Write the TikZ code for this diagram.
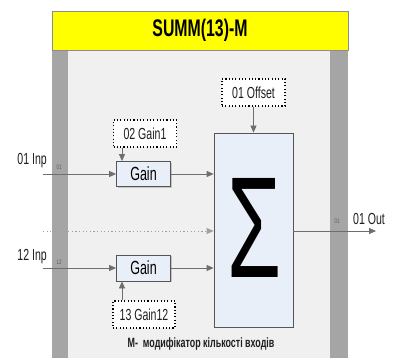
\documentclass[tikz,border=0pt]{standalone}
\usepackage{fontspec}
\setmainfont{Liberation Sans}[FakeStretch=0.66]
\usetikzlibrary{arrows.meta,shadows}
\definecolor{hdr}{HTML}{FFFF00}
\definecolor{hdredge}{HTML}{8C8C8C}
\definecolor{bar}{HTML}{A5A5A5}
\definecolor{panel}{HTML}{F0F0F0}
\definecolor{blk}{HTML}{E9EFF8}
\definecolor{edge}{HTML}{555555}
\definecolor{wire}{HTML}{6E6E6E}
\definecolor{dotwire}{HTML}{A0A0A0}
\definecolor{ink}{HTML}{1E1E1E}
\tikzset{
  fnbox/.style={draw=edge, fill=blk, line width=0.8pt, inner sep=0pt,
    drop shadow={shadow xshift=1.2pt, shadow yshift=-1.2pt, fill=black!40, opacity=0.5}},
  parbox/.style={draw=black, line width=1.1pt, dash pattern=on 1.1pt off 2.2pt,
    fill=white, inner sep=0pt, text=ink, font=\fontsize{16}{16}\selectfont},
  sig/.style={draw=wire, line width=0.8pt, -{Triangle[length=7pt,width=6pt]}},
  lbl/.style={inner sep=0pt, text=ink, font=\fontsize{16}{16}\selectfont},
  port/.style={inner sep=0pt, text=black!65, font=\fontsize{6.5}{6.5}\selectfont},
}
\begin{document}
\begin{tikzpicture}[x=1pt,y=-1pt]
  \useasboundingbox[fill=white] (0,0) rectangle (395,358);

  % block frame: grey side bars, light panel, yellow title bar
  \fill[bar] (52,50) rectangle (348,358);
  \fill[panel] (68,50) rectangle (330,358);
  \draw[fill=hdr, draw=hdredge, line width=0.8pt] (52,11) rectangle (348,50);
  \node[inner sep=0pt, text=black, font=\bfseries\fontsize{24}{24}\selectfont] (title) at (200,30.5) {SUMM(13)-M};

  % function blocks
  \node[fnbox, minimum width=54pt, minimum height=25pt, font=\fontsize{19}{19}\selectfont] (g1) at (143.5,174) {Gain};
  \node[fnbox, minimum width=54pt, minimum height=26pt, font=\fontsize{19}{19}\selectfont] (g12) at (143.5,268) {Gain};
  \node[fnbox, minimum width=79pt, minimum height=194pt] (sum) at (253.5,230) {};
  \node[inner sep=0pt, text=black, font=\fontsize{144}{144}\selectfont] (sigma) at (255,227.5) {\scalebox{0.92}[1]{Σ}};

  % parameter inputs
  \node[parbox, minimum width=63pt, minimum height=27pt] (off) at (253.5,92.5) {01 Offset};
  \node[parbox, minimum width=63pt, minimum height=27pt] (p1) at (145,133.5) {02 Gain1};
  \node[parbox, minimum width=62pt, minimum height=27pt] (p12) at (144,314.5) {13 Gain12};

  % signal end points
  \coordinate (i1) at (43,174);
  \coordinate (i0) at (43,231);
  \coordinate (i12) at (43,268);
  \coordinate (o1) at (376,231);
  \coordinate (k) at (122,0);

  % wiring
  \draw[sig] (i1) -- (g1.west);
  \draw[sig] (i12) -- (g12.west);
  \draw[sig] (g1.east) -- (g1.east -| sum.west);
  \draw[sig] (g12.east) -- (g12.east -| sum.west);
  \draw[sig, draw=dotwire, dash pattern=on 1.2pt off 2.4pt] (i0) -- (i0 -| sum.west);
  \draw[sig] (sum.east |- o1) -- (o1);
  \draw[sig] (off.south) -- (sum.north);
  \draw[sig] (p1.south -| k) -- (g1.north -| k);
  \draw[sig] (p12.north -| k) -- (g12.south -| k);

  % port labels
  \node[lbl, anchor=base east] (t1) at (47,164) {01 Inp};
  \node[lbl, anchor=base east] (t12) at (47,260) {12 Inp};
  \node[lbl, anchor=base west] (to) at (353,224) {01 Out};
  \node[port] (n1) at (59,167) {01};
  \node[port] (n12) at (59,262) {12};
  \node[port] (no) at (337,221) {01};

  % footnote
  \node[inner sep=0pt, text=ink, font=\bfseries\fontsize{13.5}{13.5}\selectfont] (note) at (201,344) {M-\ \ модифікатор кількості входів};
\end{tikzpicture}
\end{document}
